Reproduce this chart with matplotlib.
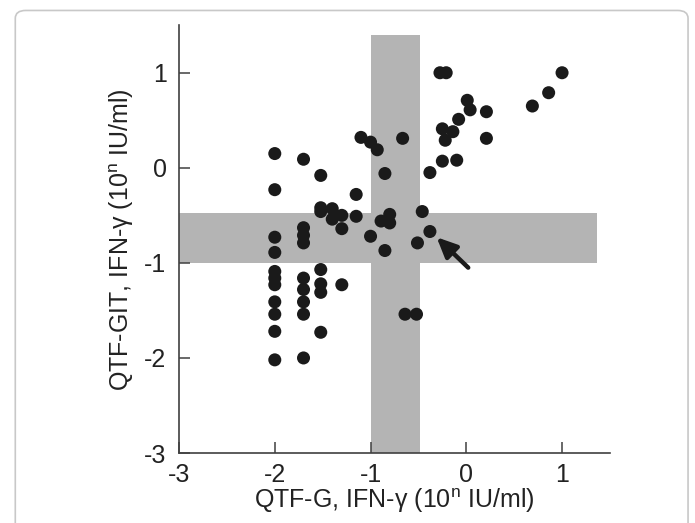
import numpy as np
import matplotlib
matplotlib.use('Agg')
import matplotlib.pyplot as plt
from matplotlib.patches import Rectangle, FancyBboxPatch

plt.rcParams['font.family'] = ['Liberation Sans', 'DejaVu Sans']
plt.rcParams['axes.unicode_minus'] = False

# QTF-G (x) vs QTF-GIT (y), log10 IFN-gamma
qtf_g = [-2.0] * 11 + [-1.70] * 9 + [-1.52] * 7 + [-1.40] * 2 + [-1.30] * 3 + [-1.15] * 2 + [
    -1.10, -1.00, -1.00, -0.93, -0.89, -0.85, -0.85, -0.80, -0.80, -0.665,
    -0.64, -0.52, -0.51, -0.46, -0.38, -0.38, -0.275, -0.21, -0.25, -0.25,
    -0.22, -0.14, -0.08, -0.10, 0.01, 0.04, 0.21, 0.21, 0.69, 0.86, 1.00]
qtf_git = [0.15, -0.23, -0.73, -0.89, -1.09, -1.16, -1.23, -1.41, -1.54, -1.72, -2.02,
           0.09, -0.63, -0.71, -0.79, -1.16, -1.28, -1.41, -1.54, -2.00,
           -0.08, -0.42, -0.46, -1.07, -1.22, -1.31, -1.73,
           -0.43, -0.54,
           -0.50, -0.64, -1.23,
           -0.28, -0.51,
           0.32, 0.27, -0.72, 0.19, -0.56, -0.06, -0.87, -0.49, -0.58, 0.31,
           -1.54, -1.54, -0.79, -0.46, -0.05, -0.67, 1.00, 1.00, 0.41, 0.07,
           0.29, 0.38, 0.51, 0.08, 0.71, 0.61, 0.59, 0.31, 0.65, 0.79, 1.00]

# grey zones (borderline region) and the arrowed point
zone_lo, zone_hi = -1.0, -0.48
arrow_tip = (-0.31, -0.73)
arrow_tail = (0.02, -1.05)

ticks = [-3, -2, -1, 0, 1]

fig = plt.figure(figsize=(6.95, 5.23), dpi=100)

# rounded frame around the figure
frame = FancyBboxPatch((0.022, -0.05), 0.968, 1.03, boxstyle='round,pad=0,rounding_size=0.015',
                       transform=fig.transFigure, facecolor='none', edgecolor='#c8c8c8',
                       linewidth=1.2)
fig.patches.append(frame)

ax = fig.add_axes([0.2576, 0.1338, 0.620, 0.818])
ax.set_xlim(-3, 1.5)
ax.set_ylim(-3, 1.5)

grey = '#b4b4b4'
ax.add_patch(Rectangle((zone_lo, -3), zone_hi - zone_lo, 1.4 + 3, facecolor=grey, edgecolor='none', zorder=1))
ax.add_patch(Rectangle((-3, zone_lo), 1.37 + 3, zone_hi - zone_lo, facecolor=grey, edgecolor='none', zorder=1))

ax.scatter(qtf_g, qtf_git, s=88, color='#1a1a1a', edgecolors='none', zorder=3)

ax.annotate('', xy=arrow_tip, xytext=arrow_tail,
            arrowprops=dict(arrowstyle='-|>,head_length=1.2,head_width=0.55', color='#1a1a1a', lw=3.2,
                            shrinkA=0, shrinkB=0), zorder=4)

for side in ['top', 'right']:
    ax.spines[side].set_visible(False)
for side in ['left', 'bottom']:
    ax.spines[side].set_color('#404040')
    ax.spines[side].set_linewidth(1.2)

ax.set_xticks(ticks)
ax.set_yticks(ticks)
ax.tick_params(direction='in', length=8, width=1.1, color='#404040', labelsize=18,
               labelcolor='#222222')
ax.tick_params(axis='y', pad=9)
ax.tick_params(axis='x', pad=7)

ax.set_xlabel('QTF-G, IFN-γ (10$^{\\mathregular{n}}$ IU/ml)', fontsize=18, color='#222222', labelpad=0)
ax.set_ylabel('QTF-GIT, IFN-γ (10$^{\\mathregular{n}}$ IU/ml)', fontsize=18, color='#222222', labelpad=6)

plt.savefig('out.png', dpi=100)
